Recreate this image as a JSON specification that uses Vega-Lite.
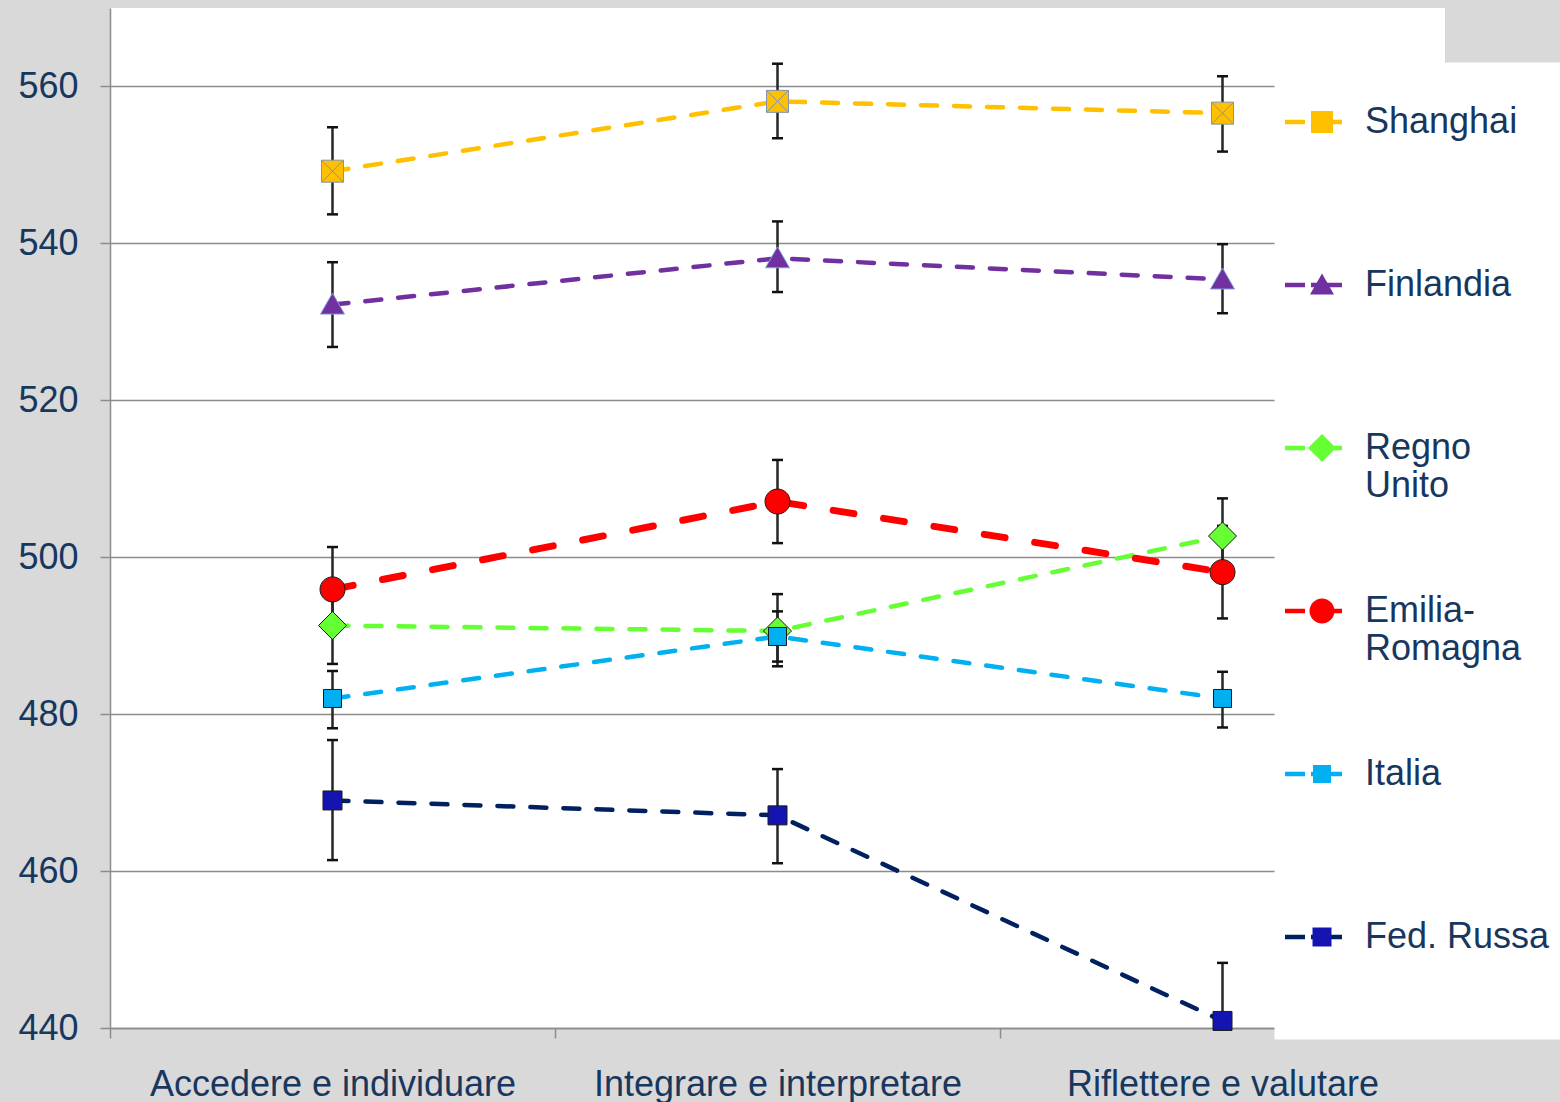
{
  "$schema": "https://vega.github.io/schema/vega-lite/v6.json",
  "width": 1335,
  "height": 1020,
  "autosize": {"type": "none"},
  "padding": {"left": 110, "top": 8, "right": 115, "bottom": 74},
  "background": "#d9d9d9",
  "config": {"view": {"fill": "white", "stroke": null}, "font": "Liberation Sans"},
  "data": {
    "values": [
      {"country": "Shanghai", "skill": "Accedere e individuare", "score": 549.2, "lo": 543.7, "hi": 554.8},
      {"country": "Shanghai", "skill": "Integrare e interpretare", "score": 558.1, "lo": 553.4, "hi": 562.9},
      {"country": "Shanghai", "skill": "Riflettere e valutare", "score": 556.6, "lo": 551.7, "hi": 561.3},
      {"country": "Finlandia", "skill": "Accedere e individuare", "score": 532.2, "lo": 526.8, "hi": 537.6},
      {"country": "Finlandia", "skill": "Integrare e interpretare", "score": 538.1, "lo": 533.8, "hi": 542.8},
      {"country": "Finlandia", "skill": "Riflettere e valutare", "score": 535.4, "lo": 531.1, "hi": 539.9},
      {"country": "Regno Unito", "skill": "Accedere e individuare", "score": 491.3, "lo": 486.4, "hi": 496.2},
      {"country": "Regno Unito", "skill": "Integrare e interpretare", "score": 490.6, "lo": 486.1, "hi": 495.3},
      {"country": "Regno Unito", "skill": "Riflettere e valutare", "score": 502.7, "lo": 498.0, "hi": 507.5},
      {"country": "Emilia-Romagna", "skill": "Accedere e individuare", "score": 495.9, "lo": 490.5, "hi": 501.3},
      {"country": "Emilia-Romagna", "skill": "Integrare e interpretare", "score": 507.1, "lo": 501.8, "hi": 512.4},
      {"country": "Emilia-Romagna", "skill": "Riflettere e valutare", "score": 498.1, "lo": 492.2, "hi": 504.0},
      {"country": "Italia", "skill": "Accedere e individuare", "score": 482.0, "lo": 478.2, "hi": 485.5},
      {"country": "Italia", "skill": "Integrare e interpretare", "score": 489.9, "lo": 486.7, "hi": 493.1},
      {"country": "Italia", "skill": "Riflettere e valutare", "score": 482.0, "lo": 478.3, "hi": 485.4},
      {"country": "Fed. Russa", "skill": "Accedere e individuare", "score": 469.0, "lo": 461.4, "hi": 476.7},
      {"country": "Fed. Russa", "skill": "Integrare e interpretare", "score": 467.1, "lo": 461.0, "hi": 473.0},
      {"country": "Fed. Russa", "skill": "Riflettere e valutare", "score": 440.9, "lo": 433.5, "hi": 448.3}
    ]
  },
  "encoding": {
    "x": {
      "field": "skill",
      "type": "nominal",
      "sort": ["Accedere e individuare", "Integrare e interpretare", "Riflettere e valutare"],
      "scale": {"type": "band", "paddingInner": 0, "paddingOuter": 0},
      "axis": {
        "title": null,
        "labelAngle": 0,
        "tickBand": "extent",
        "tickSize": 10,
        "tickColor": "#8c8c8c",
        "tickWidth": 1.5,
        "domainColor": "#8c8c8c",
        "domainWidth": 1.5,
        "labelFont": "Liberation Sans",
        "labelFontSize": 36,
        "labelColor": "#17375e",
        "labelPadding": 29,
        "labelLimit": 0
      }
    }
  },
  "layer": [
    {
      "transform": [{"filter": "datum.country != 'Emilia-Romagna'"}],
      "mark": {"type": "line", "strokeWidth": 4.5, "strokeDash": [16, 17], "strokeCap": "round"},
      "encoding": {
        "y": {
          "field": "score",
          "type": "quantitative",
          "scale": {"domain": [440, 570], "nice": false, "zero": false},
          "axis": {
            "title": null,
            "values": [440, 460, 480, 500, 520, 540, 560],
            "grid": true,
            "gridColor": "#8c8c8c",
            "gridWidth": 1.5,
            "domainColor": "#8c8c8c",
            "domainWidth": 1.5,
            "tickColor": "#8c8c8c",
            "tickWidth": 1.5,
            "tickSize": 10,
            "labelFont": "Liberation Sans",
            "labelFontSize": 36,
            "labelColor": "#17375e",
            "labelPadding": 22
          }
        },
        "stroke": {
          "field": "country",
          "type": "nominal",
          "scale": {
            "domain": ["Shanghai", "Finlandia", "Regno Unito", "Emilia-Romagna", "Italia", "Fed. Russa"],
            "range": ["#ffc000", "#7030a0", "#66ff33", "#ff0000", "#00b0f0", "#002060"]
          },
          "legend": {
            "orient": "none",
            "legendX": 1164,
            "legendY": 54,
            "direction": "vertical",
            "title": null,
            "padding": 29,
            "fillColor": "white",
            "strokeColor": "transparent",
            "rowPadding": 97,
            "gridAlign": "each",
            "symbolType": "stroke",
            "symbolSize": 3249,
            "symbolStrokeWidth": 4.5,
            "symbolDash": [20, 6, 40],
            "symbolOffset": -20.5,
            "labelFont": "Liberation Sans",
            "labelFontSize": 36,
            "labelOpacity": 0,
            "labelColor": "transparent",
            "labelOffset": 200,
            "labelLimit": 0,
            "labelBaseline": "top",
            "labelExpr": "datum.label == 'Fed. Russa' ? [' ',' '] : ' '"
          }
        }
      }
    },
    {
      "transform": [{"filter": "datum.country == 'Emilia-Romagna'"}],
      "mark": {"type": "line", "strokeWidth": 7, "strokeDash": [21, 30], "strokeCap": "round"},
      "encoding": {
        "y": {"field": "score", "type": "quantitative"},
        "stroke": {
          "field": "country",
          "type": "nominal",
          "scale": {
            "domain": ["Shanghai", "Finlandia", "Regno Unito", "Emilia-Romagna", "Italia", "Fed. Russa"],
            "range": ["#ffc000", "#7030a0", "#66ff33", "#ff0000", "#00b0f0", "#002060"]
          }
        }
      }
    },
    {
      "mark": {"type": "rule", "color": "#262626", "strokeWidth": 2.5, "clip": true},
      "encoding": {
        "y": {"field": "lo", "type": "quantitative"},
        "y2": {"field": "hi"}
      }
    },
    {
      "mark": {"type": "tick", "color": "#111111", "size": 11, "thickness": 2.5, "clip": true, "opacity": 1},
      "encoding": {"y": {"field": "lo", "type": "quantitative"}}
    },
    {
      "mark": {"type": "tick", "color": "#111111", "size": 11, "thickness": 2.5, "clip": true, "opacity": 1},
      "encoding": {"y": {"field": "hi", "type": "quantitative"}}
    },
    {
      "mark": {"type": "point", "filled": true, "size": 400, "opacity": 1, "strokeWidth": 1},
      "encoding": {
        "y": {"field": "score", "type": "quantitative"},
        "fill": {
          "field": "country",
          "type": "nominal",
          "sort": null,
          "scale": {"range": ["#ffc000", "#7030a0", "#66ff33", "#ff0000", "#00b0f0", "#1414b0"]},
          "legend": {
            "orient": "none",
            "legendX": 1194,
            "legendY": 96,
            "zindex": 1,
            "direction": "vertical",
            "title": null,
            "padding": 0,
            "rowPadding": 89,
            "gridAlign": "all",
            "symbolSize": 400,
            "symbolStrokeWidth": 1,
            "symbolStrokeColor": "#1a1a1a",
            "labelFont": "Liberation Sans",
            "labelFontSize": 36,
            "labelColor": "#17375e",
            "labelOffset": 25,
            "labelLimit": 0,
            "labelBaseline": "middle",
            "labelExpr": "datum.label == 'Regno Unito' ? ['Regno','Unito'] : datum.label == 'Emilia-Romagna' ? ['Emilia-','Romagna'] : datum.label"
          }
        },
        "shape": {
          "field": "country",
          "type": "nominal",
          "sort": null,
          "scale": {
            "range": [
              "M-1.1,-1.1H1.1V1.1H-1.1Z M-1.1,-1.1L1.1,1.1 M1.1,-1.1L-1.1,1.1",
              "M0,-1.15L1.2,0.95L-1.2,0.95Z",
              "M0,-1.4L1.4,0L0,1.4L-1.4,0Z",
              "M-1.25,0A1.25,1.25,0,1,1,1.25,0A1.25,1.25,0,1,1,-1.25,0Z",
              "M-0.9,-0.9H0.9V0.9H-0.9Z",
              "M-0.95,-0.95H0.95V0.95H-0.95Z"
            ]
          },
          "legend": {
            "orient": "none",
            "legendX": 1194,
            "legendY": 96,
            "zindex": 1,
            "direction": "vertical",
            "title": null,
            "padding": 0,
            "rowPadding": 89,
            "gridAlign": "all",
            "symbolSize": 400,
            "symbolStrokeWidth": 1,
            "symbolStrokeColor": "#1a1a1a",
            "labelFont": "Liberation Sans",
            "labelFontSize": 36,
            "labelColor": "#17375e",
            "labelOffset": 25,
            "labelLimit": 0,
            "labelBaseline": "middle",
            "labelExpr": "datum.label == 'Regno Unito' ? ['Regno','Unito'] : datum.label == 'Emilia-Romagna' ? ['Emilia-','Romagna'] : datum.label"
          }
        },
        "stroke": {
          "condition": [
            {"test": "datum.country == 'Shanghai'", "value": "#8393ab"},
            {"test": "datum.country == 'Finlandia'", "value": "#7f9fd8"}
          ],
          "value": "#1a1a1a"
        }
      }
    }
  ]
}
